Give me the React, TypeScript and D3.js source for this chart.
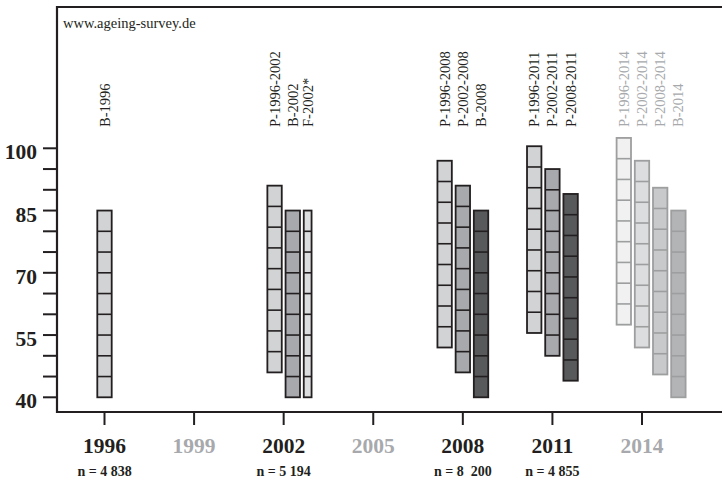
import React from "react";
import * as d3 from "d3";

// survey waves along the x axis
const waveYears = [1996, 1999, 2002, 2005, 2008, 2011, 2014];
const waveDone = [true, false, true, false, true, true, false];
const sampleSizes = ["n = 4 838", "", "n = 5 194", "", "n = 8  200", "n = 4 855", ""];

// one column per sample, age range covered in that wave
const barNames = [
  "B-1996",
  "P-1996-2002", "B-2002", "F-2002*",
  "P-1996-2008", "P-2002-2008", "B-2008",
  "P-1996-2011", "P-2002-2011", "P-2008-2011",
  "P-1996-2014", "P-2002-2014", "P-2008-2014", "B-2014",
];
const barWave = [1996, 2002, 2002, 2002, 2008, 2008, 2008, 2011, 2011, 2011, 2014, 2014, 2014, 2014];
const barAgeMin = [40, 46, 40, 40, 52, 46, 40, 55.5, 50, 44, 57.5, 52, 45.5, 40];
const barAgeMax = [85, 91, 85, 85, 97, 91, 85, 100.5, 95, 89, 102.5, 97, 90.5, 85];

const ageTicks = [40, 55, 70, 85, 100];
const cellYears = 5;

const FONT = '"Liberation Serif", "Times New Roman", serif';
const INK = "#231f20";
const GREY_TEXT = "#a7a9ac";

// which bar of each wave sits on the tick
const anchorSlot: Record<number, number> = { 1996: 0, 2002: 0.5, 2008: 1, 2011: 1, 2014: 1 };

const cohortOf = (name: string) => name.split("-")[1].replace("*", "");

function barStyle(name: string, wave: number) {
  const cohort = cohortOf(name);
  if (wave === 2014) {
    const fills: Record<string, string> = { "1996": "#f1f1f1", "2002": "#dcddde", "2008": "#c8c9ca", "2014": "#b3b4b5" };
    return { fill: fills[cohort], stroke: "#9d9e9f" };
  }
  if (name.startsWith("F")) return { fill: "#dcddde", stroke: INK };
  const fills: Record<string, string> = { "1996": "#d1d3d4", "2002": "#a7a9ac", "2008": "#58595b" };
  return { fill: fills[cohort], stroke: INK };
}

export default function App() {
  const width = 722;
  const height = 483;
  const axisX = 57;
  const axisY = 412;
  const topY = 7;

  const x = d3.scaleLinear().domain([1996, 2014]).range([104.5, 642]);
  const y = d3.scaleLinear().domain([40, 100]).range([397.3, 148.3]);

  const fullW = 14.4;
  const narrowW = 7.8;
  const gap = 3.8;

  // lay out the columns of every wave side by side
  const bars = barNames.map((name, i) => ({
    name,
    wave: barWave[i],
    min: barAgeMin[i],
    max: barAgeMax[i],
    w: name.startsWith("F") ? narrowW : fullW,
    cx: 0,
  }));
  d3.groups(bars, (b) => b.wave).forEach(([wave, group]) => {
    let c = 0;
    group.forEach((b, j) => {
      if (j > 0) c += group[j - 1].w / 2 + gap + b.w / 2;
      b.cx = c;
    });
    const a = anchorSlot[wave];
    const lo = Math.floor(a);
    const hi = Math.min(Math.ceil(a), group.length - 1);
    const anchor = group[lo].cx + (group[hi].cx - group[lo].cx) * (a - lo);
    group.forEach((b) => (b.cx += x(wave) - anchor));
  });

  const minorTicks = d3.range(40, 101, 5);

  return (
    <svg
      width={width}
      height={height}
      style={{ position: "absolute", left: 0, top: 0, background: "#fff" }}
      fontFamily={FONT}
    >
      <rect width={width} height={height} fill="#fff" />

      {/* frame */}
      <line x1={axisX - 1} x2={width} y1={topY} y2={topY} stroke={INK} strokeWidth={2.2} />
      <line x1={axisX} x2={axisX} y1={topY - 1} y2={axisY + 1} stroke={INK} strokeWidth={2.2} />
      <line x1={axisX - 1} x2={width} y1={axisY} y2={axisY} stroke={INK} strokeWidth={2} />

      <text x={63} y={27.5} fontSize={14.5} fill={INK}>
        www.ageing-survey.de
      </text>

      {/* y axis */}
      {minorTicks.map((t) => (
        <line key={t} x1={43} x2={axisX} y1={y(t)} y2={y(t)} stroke={INK} strokeWidth={2} />
      ))}
      {ageTicks.map((t) => (
        <text key={t} x={37} y={y(t) + 11} textAnchor="end" fontSize={21.5} fontWeight="bold" fill={INK}>
          {t}
        </text>
      ))}

      {/* x axis */}
      {waveYears.map((yr, i) => (
        <g key={yr} transform={`translate(${x(yr)},0)`}>
          <line y1={axisY} y2={axisY + 13} stroke={INK} strokeWidth={2} />
          <text y={453} textAnchor="middle" fontSize={21.5} fontWeight="bold" fill={waveDone[i] ? INK : GREY_TEXT}>
            {yr}
          </text>
          {sampleSizes[i] && (
            <text y={476} textAnchor="middle" fontSize={14} fontWeight="bold" fill={INK} style={{ whiteSpace: "pre" }}>
              {sampleSizes[i]}
            </text>
          )}
        </g>
      ))}

      {/* sample columns */}
      {bars.map((b) => {
        const st = barStyle(b.name, b.wave);
        const x0 = b.cx - b.w / 2;
        const cells = d3.range(b.min + cellYears, b.max - 0.01, cellYears);
        return (
          <g key={b.name}>
            <rect
              x={x0}
              y={y(b.max)}
              width={b.w}
              height={y(b.min) - y(b.max)}
              fill={st.fill}
              stroke={st.stroke}
              strokeWidth={1.8}
            />
            {cells.map((c) => (
              <line key={c} x1={x0} x2={x0 + b.w} y1={y(c)} y2={y(c)} stroke={st.stroke} strokeWidth={1.6} />
            ))}
            <text
              transform={`translate(${b.cx},127) rotate(-90)`}
              dominantBaseline="central"
              fontSize={14.5}
              fill={b.wave === 2014 ? GREY_TEXT : INK}
            >
              {b.name}
            </text>
          </g>
        );
      })}
    </svg>
  );
}
